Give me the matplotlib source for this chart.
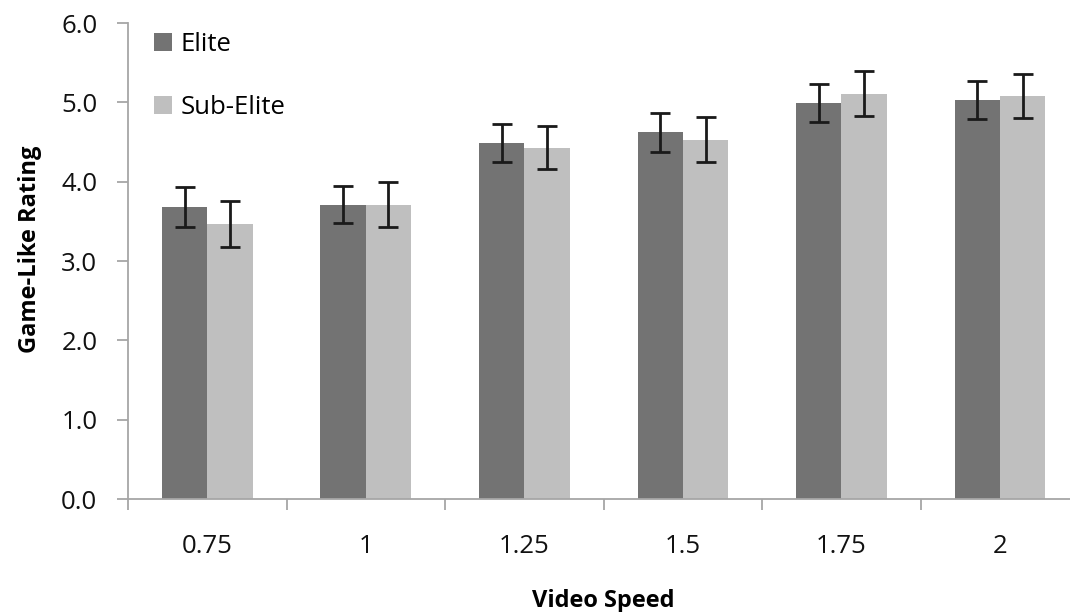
import numpy as np
import matplotlib.pyplot as plt

plt.rcParams['font.family'] = ['Open Sans', 'DejaVu Sans']

speeds = ['0.75', '1', '1.25', '1.5', '1.75', '2']
elite = [3.68, 3.71, 4.49, 4.62, 4.99, 5.03]
elite_err = [0.25, 0.235, 0.24, 0.245, 0.24, 0.24]
sub_elite = [3.47, 3.71, 4.43, 4.53, 5.11, 5.08]
sub_elite_err = [0.29, 0.28, 0.27, 0.285, 0.285, 0.28]

fig = plt.figure(figsize=(10.70, 6.12), dpi=100)
ax = fig.add_axes([0.1196, 0.1846, 0.889, 0.7778])

x = np.arange(len(speeds))
w = 1 / 3.5
err_kw = dict(ecolor='#1a1a1a', elinewidth=2, capsize=7, capthick=2)
ax.bar(x - w / 2, elite, w, yerr=elite_err, color='#737373', label='Elite', error_kw=err_kw)
ax.bar(x + w / 2, sub_elite, w, yerr=sub_elite_err, color='#bfbfbf', label='Sub-Elite', error_kw=err_kw)

ax.set_xlim(-0.5, len(speeds) - 0.5)
ax.set_ylim(0, 6)
ax.set_yticks(np.arange(0, 7, 1))
ax.set_yticklabels(['%.1f' % v for v in np.arange(0, 7, 1)])

# boundaries get tick marks, category labels sit on minor ticks
ax.set_xticks(np.arange(-0.5, len(speeds), 1))
ax.set_xticklabels([])
ax.set_xticks(x, minor=True)
ax.set_xticklabels(speeds, minor=True)

for s in ['top', 'right']:
    ax.spines[s].set_visible(False)
for s in ['left', 'bottom']:
    ax.spines[s].set_color('#a6a6a6')
    ax.spines[s].set_linewidth(1.3)

ax.tick_params(axis='y', direction='out', length=8, width=1.3, color='#a6a6a6',
               labelsize=18.5, pad=14, labelcolor='#111111')
ax.tick_params(axis='x', which='major', direction='out', length=8, width=1.3, color='#a6a6a6')
ax.tick_params(axis='x', which='minor', length=0, labelsize=18.5, pad=25, labelcolor='#111111')

ax.set_ylabel('Game-Like Rating', fontsize=17, fontweight='bold')
ax.yaxis.set_label_coords(-0.09, 0.525)
ax.set_xlabel('Video Speed', fontsize=17, fontweight='bold')
ax.xaxis.set_label_coords(0.5, -0.19)

leg = ax.legend(loc='upper left', bbox_to_anchor=(0.003, 1.03), frameon=False, fontsize=18.5,
                handlelength=0.7, handleheight=0.7, handletextpad=0.35, labelspacing=1.5)

plt.savefig('out.png', dpi=100)
